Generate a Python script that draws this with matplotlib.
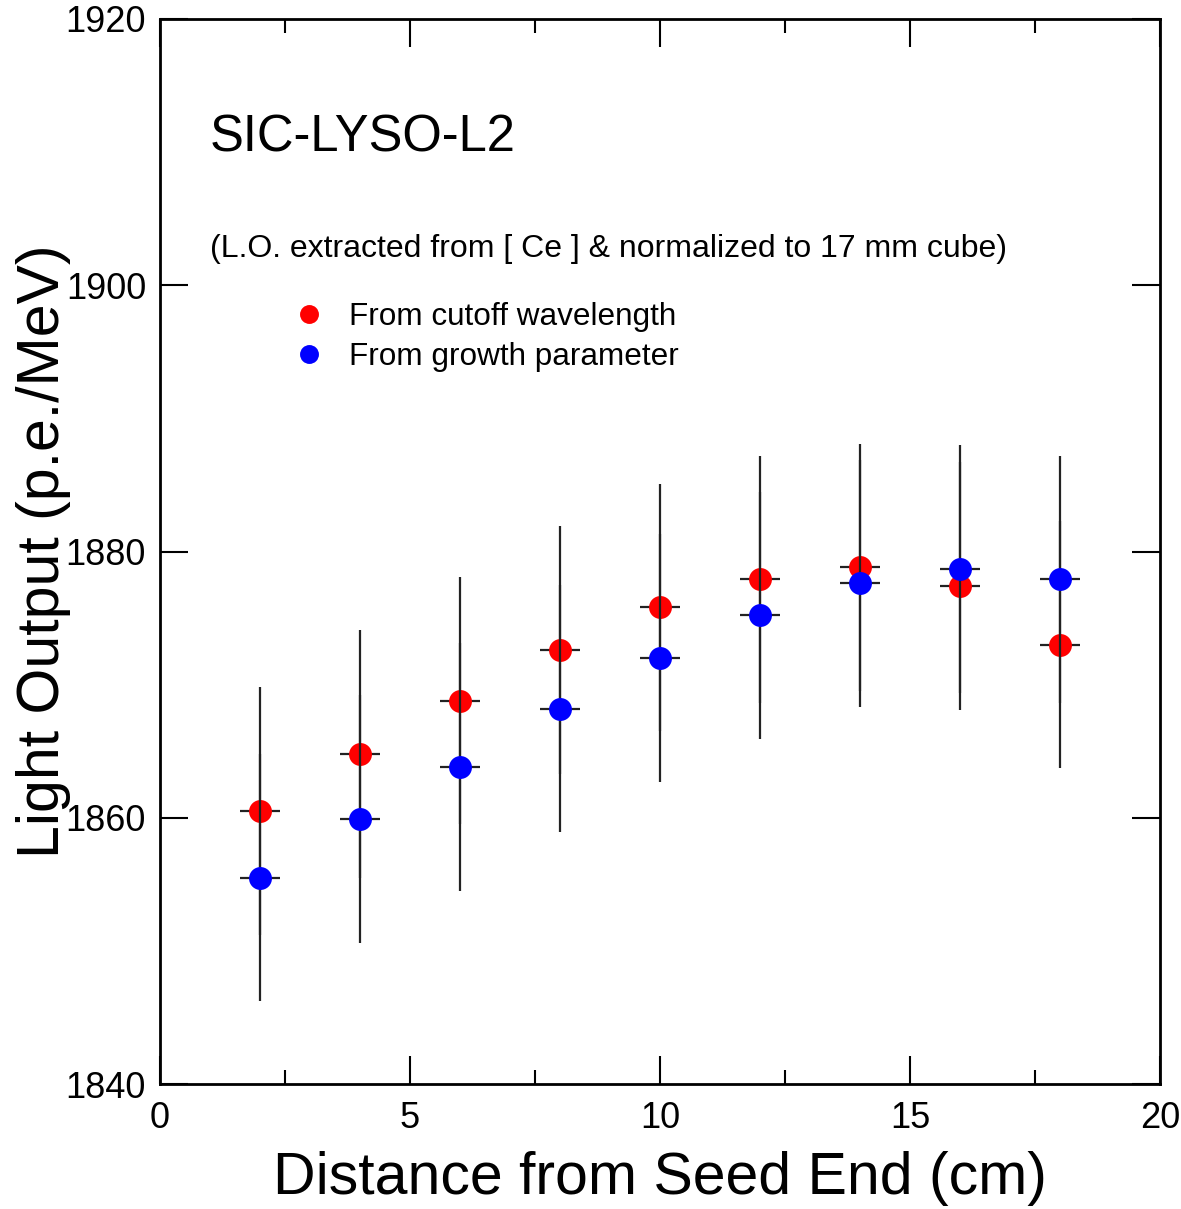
import matplotlib
matplotlib.use("Agg")
import matplotlib.pyplot as plt
from matplotlib.ticker import MultipleLocator

plt.rcParams['font.family'] = ['Liberation Sans', 'DejaVu Sans']

distance = [2, 4, 6, 8, 10, 12, 14, 16, 18]
lo_cutoff = [1860.5, 1864.8, 1868.8, 1872.6, 1875.8, 1877.9, 1878.8, 1877.4, 1873.0]
lo_growth = [1855.5, 1859.9, 1863.8, 1868.2, 1872.0, 1875.2, 1877.6, 1878.7, 1877.9]
err_cutoff = [9.3, 9.3, 9.3, 9.3, 9.3, 9.3, 9.3, 9.3, 9.3]
err_growth = [9.3, 9.3, 9.3, 9.3, 9.3, 9.3, 9.3, 9.3, 9.3]
xerr = 0.4

fig = plt.figure(figsize=(11.81, 12.09), dpi=100)
ax = fig.add_axes([160/1181, 1 - 1084/1209, 1000/1181, 1065/1209])

ax.errorbar(distance, lo_cutoff, yerr=err_cutoff, xerr=xerr, fmt='none',
            ecolor='#222222', elinewidth=1.6, capsize=0, zorder=2)
ax.plot(distance, lo_cutoff, 'o', color='#ff0000', ms=16.5, mec='none', zorder=3,
        label='From cutoff wavelength')
ax.errorbar(distance, lo_growth, yerr=err_growth, xerr=xerr, fmt='none',
            ecolor='#222222', elinewidth=1.6, capsize=0, zorder=4)
ax.plot(distance, lo_growth, 'o', color='#0000ff', ms=16.5, mec='none', zorder=5,
        label='From growth parameter')

ax.set_xlim(0, 20)
ax.set_ylim(1840, 1920)
ax.xaxis.set_major_locator(MultipleLocator(5))
ax.xaxis.set_minor_locator(MultipleLocator(2.5))
ax.yaxis.set_major_locator(MultipleLocator(20))
ax.tick_params(which='both', direction='in', top=True, right=True, width=1.5,
               labelsize=26)
ax.tick_params(axis='y', pad=10)
ax.tick_params(axis='x', pad=12)
ax.tick_params(which='major', length=20)
ax.tick_params(which='minor', length=10)
for s in ax.spines.values():
    s.set_linewidth(2)

ax.set_xlabel('Distance from Seed End (cm)', fontsize=42.5, labelpad=11)
ax.set_ylabel('Light Output (p.e./MeV)', fontsize=42.5, labelpad=-4)

ax.text(0.05, 0.888, 'SIC-LYSO-L2', transform=ax.transAxes, fontsize=36.5,
        ha='left', va='center')
ax.text(0.05, 0.784, '(L.O. extracted from [ Ce ] & normalized to 17 mm cube)',
        transform=ax.transAxes, fontsize=23, ha='left', va='center')

leg = ax.legend(loc='upper left', bbox_to_anchor=(0.124, 0.746), frameon=False,
                fontsize=22.7, handlelength=0.8, handletextpad=0.85,
                labelspacing=0.3, markerscale=1.1 * 0.75, borderaxespad=0)

fig.savefig('out.png', dpi=100)
